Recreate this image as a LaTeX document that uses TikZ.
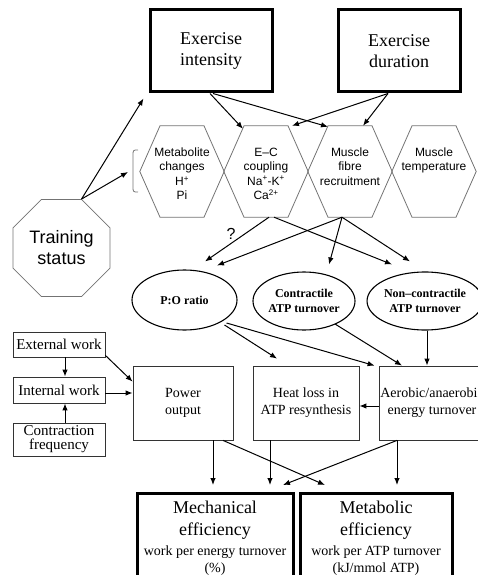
\documentclass[tikz,border=0pt]{standalone}
\usepackage{fontspec}
\setmainfont{Liberation Serif}
\setsansfont{Liberation Sans}
\usetikzlibrary{arrows.meta,shapes.geometric,calc}
\begin{document}
\begin{tikzpicture}[x=1pt,y=-1pt,
  thickbox/.style={draw, line width=3pt, inner sep=0pt, align=center},
  thinbox/.style={draw=black!80, line width=0.8pt, inner sep=0pt, align=center},
  bigfont/.style={font=\fontsize{18}{21}\selectfont},
  midfont/.style={font=\fontsize{14}{17}\selectfont},
  leftfont/.style={font=\fontsize{15}{14}\selectfont},
  ell/.style={ellipse, draw, line width=1.1pt, inner sep=0pt, align=center,
              font=\bfseries\fontsize{12}{15}\selectfont},
  hexbody/.style={inner sep=0pt, minimum width=84pt, minimum height=91pt},
  hexline/.style={draw=black!55, line width=0.8pt},
  hextext/.style={font=\sffamily\fontsize{12}{14.5}\selectfont, align=center,
                  anchor=north, inner sep=0pt},
  arr/.style={-{Latex[length=7pt,width=5.5pt]}, line width=1pt}]
\useasboundingbox (0,0) rectangle (477,575);

% top boxes
\node[thickbox, bigfont, minimum width=122pt, minimum height=82pt] (ei) at (211,51) {Exercise\\intensity};
\node[thickbox, bigfont, minimum width=122pt, minimum height=82pt] (ed) at (399,51) {Exercise\\duration};

% hexagons
\node[hexbody] (h1) at (182,171.5) {};
\node[hexbody] (h2) at (266,171.5) {};
\node[hexbody] (h3) at (350,171.5) {};
\node[hexbody] (h4) at (434,171.5) {};
\foreach \h in {h1,h2,h3,h4}
  \draw[hexline] ($(\h.north)+(-22pt,0pt)$) -- ($(\h.north)+(22pt,0pt)$) -- (\h.east)
     -- ($(\h.south)+(22pt,0pt)$) -- ($(\h.south)+(-22pt,0pt)$) -- (\h.west) -- cycle;
\node[hextext] (h1t) at (182,147.5) {Metabolite\\changes\\H\textsuperscript{+}\\Pi};
\node[hextext] (h2t) at (266,147.5) {E–C\\coupling\\Na\textsuperscript{+}-K\textsuperscript{+}\\Ca\textsuperscript{2+}};
\node[hextext] (h3t) at (350,147.5) {Muscle\\fibre\\recruitment};
\node[hextext] (h4t) at (434,147.5) {Muscle\\temperature};

% bracket
\draw[draw=black!55, line width=0.8pt] (138,150) .. controls (133,150) .. (133,156) -- (133,186) .. controls (133,192) .. (138,192);
\coordinate (br) at (128,172);

% training status
\node[regular polygon, regular polygon sides=8, minimum size=105pt, inner sep=0pt,
      draw=black!55, line width=0.8pt, align=center,
      font=\sffamily\fontsize{18}{21}\selectfont] (ts) at (61.5,248) {Training\\status};

% ellipses
\node[ell, minimum width=105pt, minimum height=60pt] (po) at (184.5,300) {P:O ratio};
\node[ell, minimum width=102pt, minimum height=58pt] (ct) at (304,301) {Contractile\\ATP turnover};
\node[ell, minimum width=104pt, minimum height=58pt] (nc) at (425,301) {Non–contractile\\ATP turnover};

% left boxes
\node[thinbox, leftfont, minimum width=92pt, minimum height=25pt] (ew) at (59,344.5) {External work};
\node[thinbox, leftfont, minimum width=92pt, minimum height=26pt] (iw) at (59,390) {Internal work};
\node[thinbox, leftfont, minimum width=92pt, minimum height=33pt] (cf) at (59,439.5) {Contraction\\frequency};

% middle boxes
\node[thinbox, midfont, minimum width=100pt, minimum height=74pt] (pw) at (183,403) {Power\\output};
\node[thinbox, midfont, minimum width=106pt, minimum height=74pt] (hl) at (306,403) {Heat loss in\\ATP resynthesis};
\node[thinbox, midfont, minimum width=106pt, minimum height=74pt] (ae) at (432,403) {Aerobic/anaerobic\\energy turnover};

% bottom boxes
\node[thickbox, minimum width=156pt, minimum height=110pt, anchor=north] (me) at (215,492) {};
\node[thickbox, minimum width=152pt, minimum height=110pt, anchor=north] (mb) at (376,492) {};
\node[align=center, anchor=north, inner sep=0pt, font=\fontsize{14}{17}\selectfont] (met) at (215,500.5)
  {\fontsize{18}{21}\selectfont Mechanical\\[5pt]\fontsize{18}{21}\selectfont efficiency\\[3pt]work per energy turnover\\(\%)};
\node[align=center, anchor=north, inner sep=0pt, font=\fontsize{14}{17}\selectfont] (mbt) at (376,500.5)
  {\fontsize{18}{21}\selectfont Metabolic\\[5pt]\fontsize{18}{21}\selectfont efficiency\\[3pt]work per ATP turnover\\(kJ/mmol ATP)};

% connectors: top
\draw[arr] ($(ei.south)+(-1pt,0pt)$) -- ($(h2.north)+(-23pt,-3pt)$);
\draw[arr] ($(ei.south)+(2pt,0pt)$) -- ($(h3.north)+(-22pt,-1pt)$);
\draw[arr] ($(ed.south)+(-11pt,0pt)$) -- ($(h2.north)+(26pt,0pt)$);
\draw[arr] ($(ed.south)+(-11pt,0pt)$) -- ($(h3.north)+(13pt,0pt)$);
\draw[arr] ($(ts.north)+(20pt,0pt)$) -- ($(ei.south west)+(-5pt,-5pt)$);
\draw[arr] ($(ts.north)+(20pt,0pt)$) -- (br);

% hexes to ellipses
\draw[arr] ($(h2.south)+(3pt,0pt)$) -- ($(po.north)+(20.5pt,8pt)$);
\draw[arr] ($(h2.south)+(8pt,0pt)$) -- ($(nc.north)+(-33pt,7pt)$);
\draw[arr] ($(h3.south)+(-8pt,0pt)$) -- ($(po.north)+(32.5pt,4pt)$);
\draw[arr] ($(h3.south)+(-8pt,0pt)$) -- ($(ct.north)+(25pt,7pt)$);
\draw[arr] ($(h3.south)+(-8pt,0pt)$) -- ($(nc.north)+(-15pt,10pt)$);
\node[font=\sffamily\fontsize{16}{16}\selectfont, inner sep=0pt] (q) at (231,234) {?};

% ellipses to boxes
\draw[arr] ($(po.center)+(40pt,-25pt)$) -- ($(hl.north)+(-29pt,7pt)$);
\draw[arr] ($(po.center)+(42pt,-23pt)$) -- ($(ae.north west)+(-4pt,0pt)$);
\draw[arr] ($(ct.center)+(31pt,-23pt)$) -- ($(ae.north)+(-30pt,0pt)$);
\draw[arr] ([xshift=-5pt]ae.north |- nc.south) -- ([xshift=-5pt]ae.north);

% left side
\draw[arr] ([xshift=6pt]ew.south) -- ([xshift=6pt]iw.north);
\draw[arr] ([xshift=6pt]cf.north) -- ([xshift=6pt]iw.south);
\draw[arr] ($(ew.south east)+(0pt,2pt)$) -- ($(pw.north west)+(0pt,-16pt)$);
\draw[arr] ([yshift=-3pt]iw.east) -- ([yshift=-3pt]iw.east -| pw.west);
\draw[arr] ([yshift=-3pt]ae.west) -- ([yshift=-3pt]ae.west -| hl.east);

% to bottom boxes
\draw[arr, shorten >=7pt] ([xshift=30pt]pw.south) -- ([xshift=30pt]pw.south |- me.north);
\draw[arr, shorten >=7pt] ([xshift=-36pt]hl.south) -- ([xshift=-36pt]hl.south |- me.north);
\draw[arr] ([xshift=40pt]pw.south) -- ($(mb.north)+(-51pt,7pt)$);
\draw[arr] ([xshift=-35pt]ae.south) -- ($(me.north)+(68pt,7pt)$);
\draw[arr, shorten >=7pt] ([xshift=-35pt]ae.south) -- ([xshift=-35pt]ae.south |- mb.north);
\end{tikzpicture}
\end{document}
